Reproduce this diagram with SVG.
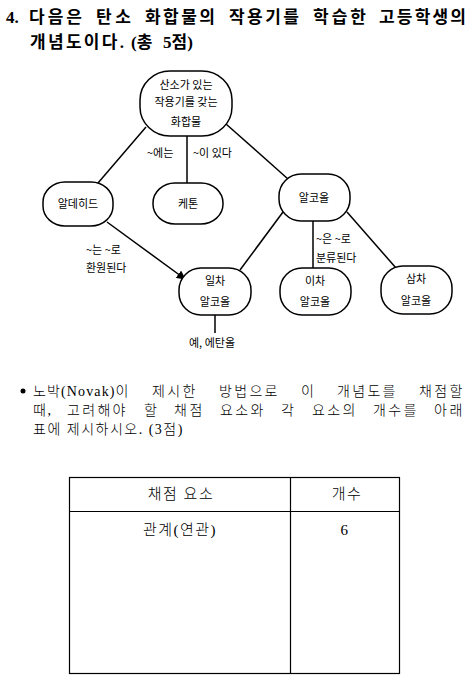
<svg xmlns="http://www.w3.org/2000/svg" width="476" height="691" viewBox="0 0 476 691">
<defs>
<style>
.node{fill:#fff;stroke:#000;stroke-width:1.5}
.nt{font-family:"Noto Sans CJK KR","DejaVu Sans",sans-serif;font-size:11px;fill:#000;text-anchor:middle}
.lt{font-family:"Noto Sans CJK KR","DejaVu Sans",sans-serif;font-size:11px;fill:#000}
.edge{stroke:#000;stroke-width:1.5;fill:none}
.h{font-family:"Liberation Serif","Noto Sans CJK KR",serif;font-size:17px;font-weight:bold;fill:#000}
.b{font-family:"Liberation Serif","Noto Sans CJK KR",serif;font-size:14px;fill:#000;font-weight:300;letter-spacing:1.5px}
.tb{font-family:"Liberation Serif","Noto Sans CJK KR",serif;font-size:15px;fill:#000;font-weight:300;text-anchor:middle;letter-spacing:1.5px}
</style>
<marker id="arr" viewBox="0 0 10 10" refX="9" refY="5" markerWidth="9" markerHeight="9" markerUnits="userSpaceOnUse" orient="auto">
<path d="M0,0 L10,5 L0,10 z" fill="#000"/>
</marker>
</defs>
<rect width="476" height="691" fill="#fff"/>
<g id="heading">
<text class="h" x="6" y="23">4.</text>
<text class="h" x="29" y="23" textLength="53" lengthAdjust="spacing">다음은</text>
<text class="h" x="96" y="23" textLength="35" lengthAdjust="spacing">탄소</text>
<text class="h" x="145" y="23" textLength="70" lengthAdjust="spacing">화합물의</text>
<text class="h" x="229" y="23" textLength="70" lengthAdjust="spacing">작용기를</text>
<text class="h" x="313" y="23" textLength="53" lengthAdjust="spacing">학습한</text>
<text class="h" x="379" y="23" textLength="87" lengthAdjust="spacing">고등학생의</text>
<text class="h" x="30" y="48" textLength="94" lengthAdjust="spacing">개념도이다.</text>
<text class="h" x="131" y="48">(총</text>
<text class="h" x="163" y="48">5점)</text>
</g>

<g id="connectors">
<line class="edge" x1="146" y1="127" x2="98" y2="183"/>
<line class="edge" x1="187" y1="136" x2="187" y2="184"/>
<line class="edge" x1="226" y1="124" x2="288" y2="179"/>
<line class="edge" x1="107" y1="222" x2="185" y2="279" marker-end="url(#arr)"/>
<line class="edge" x1="283" y1="212" x2="240" y2="270"/>
<line class="edge" x1="313" y1="221" x2="313" y2="268"/>
<line class="edge" x1="347" y1="212" x2="396" y2="268"/>
<line class="edge" x1="215" y1="315" x2="215" y2="333"/>
<text class="lt" x="147" y="157">~에는</text>
<text class="lt" x="193" y="157">~이 있다</text>
<text class="lt" x="86" y="254">~는 ~로</text>
<text class="lt" x="86" y="272">환원된다</text>
<text class="lt" x="316" y="243">~은 ~로</text>
<text class="lt" x="316" y="262">분류된다</text>
<text class="lt" x="189" y="347">예, 에탄올</text>
</g>

<g id="n-top">
<rect class="node" x="140" y="71" width="92" height="65" rx="30" ry="29"/>
<text class="nt" x="186" y="89">산소가 있는</text>
<text class="nt" x="186" y="106">작용기를 갖는</text>
<text class="nt" x="186" y="126">화합물</text>
</g>
<g id="n-aldehyde">
<rect class="node" x="43" y="182" width="70" height="44" rx="22" ry="20"/>
<text class="nt" x="78" y="208">알데히드</text>
</g>
<g id="n-ketone">
<rect class="node" x="153" y="183" width="70" height="41" rx="22" ry="20"/>
<text class="nt" x="188" y="208">케톤</text>
</g>
<g id="n-alcohol">
<rect class="node" x="279" y="174" width="71" height="47" rx="22" ry="22"/>
<text class="nt" x="314" y="202">알코올</text>
</g>
<g id="n-primary">
<rect class="node" x="179" y="268" width="72" height="47" rx="22" ry="22"/>
<text class="nt" x="215" y="285">일차</text>
<text class="nt" x="215" y="306">알코올</text>
</g>
<g id="n-secondary">
<rect class="node" x="280" y="268" width="71" height="47" rx="22" ry="22"/>
<text class="nt" x="315" y="285">이차</text>
<text class="nt" x="315" y="306">알코올</text>
</g>
<g id="n-tertiary">
<rect class="node" x="381" y="266" width="71" height="48" rx="22" ry="22"/>
<text class="nt" x="416" y="283">삼차</text>
<text class="nt" x="416" y="305">알코올</text>
</g>

<g id="body">
<circle cx="23" cy="391" r="2.5" fill="#000"/>
<text class="b" x="33" y="396" textLength="97" lengthAdjust="spacing">노박(Novak)이</text>
<text class="b" x="152" y="396" textLength="45" lengthAdjust="spacing">제시한</text>
<text class="b" x="219" y="396" textLength="60" lengthAdjust="spacing">방법으로</text>
<text class="b" x="301" y="396">이</text>
<text class="b" x="337" y="396" textLength="60" lengthAdjust="spacing">개념도를</text>
<text class="b" x="419" y="396" textLength="45" lengthAdjust="spacing">채점할</text>
<text class="b" x="33" y="415">때,</text>
<text class="b" x="67" y="415" textLength="60" lengthAdjust="spacing">고려해야</text>
<text class="b" x="144" y="415">할</text>
<text class="b" x="174" y="415" textLength="30" lengthAdjust="spacing">채점</text>
<text class="b" x="220" y="415" textLength="45" lengthAdjust="spacing">요소와</text>
<text class="b" x="281" y="415">각</text>
<text class="b" x="312" y="415" textLength="45" lengthAdjust="spacing">요소의</text>
<text class="b" x="373" y="415" textLength="45" lengthAdjust="spacing">개수를</text>
<text class="b" x="434" y="415" textLength="30" lengthAdjust="spacing">아래</text>
<text class="b" x="33" y="434">표에 제시하시오. (3점)</text>
</g>

<g id="table">
<rect x="69.5" y="477.5" width="330" height="196" fill="none" stroke="#000" stroke-width="1.2"/>
<line x1="69.5" y1="511.5" x2="399.5" y2="511.5" stroke="#000" stroke-width="1.2"/>
<line x1="290.5" y1="477.5" x2="290.5" y2="673.5" stroke="#000" stroke-width="1.2"/>
<text class="tb" x="181" y="499">채점 요소</text>
<text class="tb" x="347" y="499">개수</text>
<text class="tb" x="180" y="535">관계(연관)</text>
<text class="tb" x="345" y="535">6</text>
</g>
</svg>
